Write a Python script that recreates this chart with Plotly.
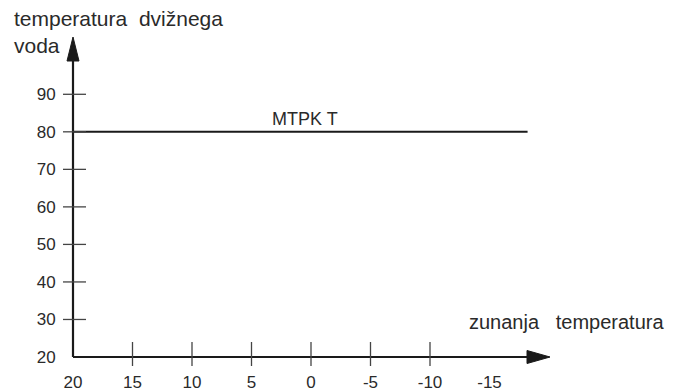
import plotly.graph_objects as go

# ── Data ──────────────────────────────────────────────────────────────
x_tick_vals = [20, 15, 10, 5, 0, -5, -10, -15]
x_tick_text = ["20", "15", "10", "5", "0", "-5", "-10", "-15"]
x_tick_marks = [15, 10, 5, 0, -5, -10]
y_tick_vals = [20, 30, 40, 50, 60, 70, 80, 90]
y_tick_marks = [30, 40, 50, 60, 70, 80, 90]

curve_label = "MTPK T"
curve_x = [20, -18.2]
curve_y = [80, 80]

x_range = [20, -20]
y_range = [20, 105]

INK = "#1a1a1a"
TEXT = "#2a2a2a"
FONT = "Liberation Sans, Arial, sans-serif"

# the page body keeps its default 8px margin, so the margins below are
# shifted by that much to land the plot area where the reference has it
PAGE_PAD = 8


def x_paper(v):
    return (x_range[0] - v) / (x_range[0] - x_range[1])


def y_paper(v):
    return (v - y_range[0]) / (y_range[1] - y_range[0])


fig = go.Figure()

fig.add_trace(go.Scatter(
    x=curve_x, y=curve_y, mode="lines",
    line=dict(color=INK, width=2),
    hoverinfo="skip", showlegend=False,
))

shapes = []
# axis lines (paper refs so they are not clipped at the plot edge)
shapes.append(dict(type="line", xref="paper", yref="paper",
                   x0=0, y0=0, x1=0.97, y1=0,
                   line=dict(color=INK, width=2.2)))
shapes.append(dict(type="line", xref="paper", yref="paper",
                   x0=0, y0=0, x1=0, y1=0.95,
                   line=dict(color=INK, width=2.2)))
# arrow heads
shapes.append(dict(type="path", xref="paper", yref="paper",
                   xsizemode="pixel", ysizemode="pixel",
                   xanchor=1, yanchor=0,
                   path="M 1,0 L -22,6.5 L -22,-6.5 Z",
                   fillcolor=INK, line=dict(color=INK, width=1)))
shapes.append(dict(type="path", xref="paper", yref="paper",
                   xsizemode="pixel", ysizemode="pixel",
                   xanchor=0, yanchor=1,
                   path="M 0,1 L -6,-23 L 6,-23 Z",
                   fillcolor=INK, line=dict(color=INK, width=1)))
# crossing tick marks
for v in y_tick_marks:
    shapes.append(dict(type="line", xref="paper", yref="paper",
                       xsizemode="pixel", xanchor=0,
                       x0=-10, x1=13, y0=y_paper(v), y1=y_paper(v),
                       line=dict(color="#444", width=1.3)))
for v in x_tick_marks:
    shapes.append(dict(type="line", xref="paper", yref="paper",
                       ysizemode="pixel", yanchor=0,
                       y0=-9, y1=15, x0=x_paper(v), x1=x_paper(v),
                       line=dict(color="#444", width=1.3)))

annotations = [
    dict(text=curve_label, x=0.5, y=80, xref="x", yref="y",
         yshift=13, showarrow=False, font=dict(size=18, color=TEXT, family=FONT)),
    dict(text="temperatura&nbsp; dvižnega<br>voda", x=-0.128, y=1.105,
         xref="paper", yref="paper", xanchor="left", yanchor="top", align="left",
         showarrow=False, font=dict(size=21, color=TEXT, family=FONT)),
    dict(text="zunanja&nbsp;&nbsp; temperatura", x=1.245, y=0.11,
         xref="paper", yref="paper", xanchor="right", yanchor="middle",
         showarrow=False, font=dict(size=20, color=TEXT, family=FONT)),
]

fig.update_layout(
    width=682, height=392,
    margin=dict(l=73 - PAGE_PAD, r=133 + PAGE_PAD, t=38 - PAGE_PAD, b=35 + PAGE_PAD),
    paper_bgcolor="white", plot_bgcolor="white",
    shapes=shapes, annotations=annotations,
    xaxis=dict(range=x_range, tickvals=x_tick_vals, ticktext=x_tick_text,
               showgrid=False, zeroline=False, automargin=False,
               showline=False, ticks="outside", ticklen=10,
               tickcolor="rgba(0,0,0,0)", ticklabelstandoff=0,
               tickfont=dict(size=17, color=TEXT, family=FONT)),
    yaxis=dict(range=y_range, tickvals=y_tick_vals, showgrid=False, zeroline=False,
               automargin=False, showline=False, ticks="outside", ticklen=10,
               tickcolor="rgba(0,0,0,0)", ticklabelstandoff=3,
               tickfont=dict(size=17, color=TEXT, family=FONT)),
    showlegend=False,
)

fig.write_html("out.html")
